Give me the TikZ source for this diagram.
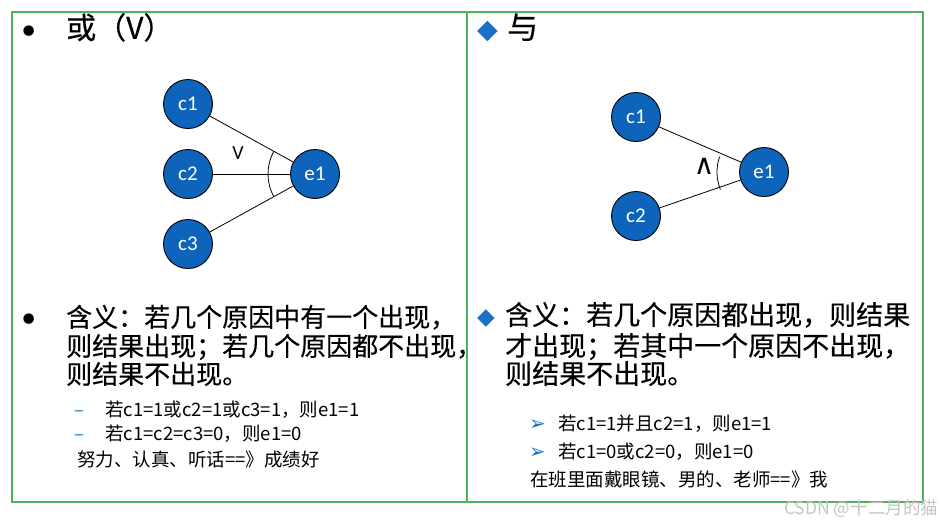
\documentclass[tikz,border=0pt]{standalone}
\usepackage{fontspec}
\usepackage{xcolor}
\usepackage{tikz}
\usetikzlibrary{positioning}
\setmainfont{Noto Sans CJK SC}
\newfontfamily\heavyfont{Noto Sans CJK SC}[FakeBold=0.4]
\newfontfamily\labelfont{Carlito}
\newfontfamily\symfont{DejaVu Sans}
\definecolor{nodeblue}{HTML}{0E64BA}
\definecolor{framegreen}{HTML}{4DB35A}
\definecolor{bulletblue}{HTML}{1C6FC8}
\definecolor{markgray}{HTML}{C4C4C4}

\begin{document}
\begin{tikzpicture}[x=1pt, y=-1pt, node distance=70pt]
\tikzstyle{event} = [circle, draw=black, line width=0.9pt, fill=nodeblue, minimum size=49pt, inner sep=0pt, text=white, font=\labelfont\fontsize{21}{21}\selectfont]
\tikzstyle{link} = [line width=0.8pt, black]
\tikzstyle{txt} = [anchor=west, inner sep=0pt, text height=0.88em, text depth=0.12em]
\tikzstyle{big} = [txt, font=\heavyfont\fontsize{26}{26}\selectfont]
\tikzstyle{small} = [txt, font=\fontsize{18.5}{18.5}\selectfont]
\tikzstyle{dot} = [anchor=center, inner sep=0pt, font=\symfont\fontsize{36}{36}\selectfont]

\useasboundingbox (0,0) rectangle (942,525);

% Frame
\draw [framegreen, line width=1.2pt] (12,12) rectangle (923,502);
\draw [framegreen, line width=1.2pt] (467,12) -- (467,502);

% Left: or
\node (orbullet) [dot] at (29,35) {•};
\node (ortitle) [txt, font=\heavyfont\fontsize{30}{30}\selectfont] at (66,35) {或（V）};

\node (c1l) [event] at (188,104) {c1};
\node (c2l) [event, below of=c1l] {c2};
\node (c3l) [event, below of=c2l] {c3};
\node (e1l) [event, right of=c2l, xshift=57pt] {e1};

\draw [link] (c1l) -- (e1l);
\draw [link] (c2l) -- (e1l);
\draw [link] (c3l) -- (e1l);
\draw [link] ([shift={(151:47)}]e1l.center) arc (151:209:47);
\node (orsign) [font=\labelfont\fontsize{20}{20}\selectfont, inner sep=0pt] at (238,153) {V};

% Left: meaning
\node (ormean1) [dot] at (29,323) {•};
\node (orline1) [big] at (66,323) {含义：若几个原因中有一个出现，};
\node (orline2) [big] at (66,352) {则结果出现；若几个原因都不出现，};
\node (orline3) [big] at (66,380) {则结果不出现。};
\node (ordash1) [small, text=bulletblue] at (74,413) {–};
\node (orcase1) [small] at (105,413) {若c1=1或c2=1或c3=1，则e1=1};
\node (ordash2) [small, text=bulletblue] at (74,437) {–};
\node (orcase2) [small] at (105,437) {若c1=c2=c3=0，则e1=0};
\node (orexample) [small] at (77,463) {努力、认真、听话==》成绩好};

% Right: and
\node (andbullet) [txt, text=bulletblue, font=\symfont\fontsize{27}{27}\selectfont] at (477,35) {◆};
\node (andtitle) [txt, font=\heavyfont\fontsize{31}{31}\selectfont] at (507,35) {与};

\node (c1r) [event] at (636,117) {c1};
\node (c2r) [event, below of=c1r, yshift=-29pt] {c2};
\node (e1r) [event] at (764,172) {e1};

\draw [link] (c1r) -- (e1r);
\draw [link] (c2r) -- (e1r);
\draw [link] ([shift={(158:47)}]e1r.center) arc (158:199:47);
\node (andsign) [font=\symfont\fontsize{28}{28}\selectfont, inner sep=0pt] at (704,166) {∧};

% Right: meaning
\node (andmean) [txt, text=bulletblue, font=\symfont\fontsize{23}{23}\selectfont] at (477,321) {◆};
\node (andline1) [big, font=\heavyfont\fontsize{27}{27}\selectfont] at (505,321) {含义：若几个原因都出现，则结果};
\node (andline2) [big, font=\heavyfont\fontsize{27}{27}\selectfont] at (505,352) {才出现；若其中一个原因不出现，};
\node (andline3) [big, font=\heavyfont\fontsize{27}{27}\selectfont] at (505,380) {则结果不出现。};
\node (andarrow1) [small, text=bulletblue, font=\symfont\fontsize{20}{20}\selectfont] at (529,427) {➢};
\node (andcase1) [small] at (558,427) {若c1=1并且c2=1，则e1=1};
\node (andarrow2) [small, text=bulletblue, font=\symfont\fontsize{20}{20}\selectfont] at (529,455) {➢};
\node (andcase2) [small] at (558,455) {若c1=0或c2=0，则e1=0};
\node (andexample) [small] at (530,483) {在班里面戴眼镜、男的、老师==》我};

% Watermark
\node (mark) [txt, text=markgray, font=\fontsize{17.5}{17.5}\selectfont] at (784,511) {CSDN @十二月的猫};
\end{tikzpicture}
\end{document}
